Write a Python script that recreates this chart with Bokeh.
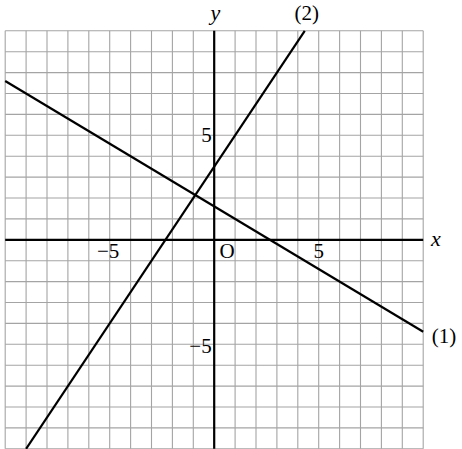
from bokeh.plotting import figure
from bokeh.models import Range1d
from bokeh.core.properties import value
from bokeh.embed import file_html
from bokeh.resources import INLINE

# ---- data ----
grid_values = list(range(-10, 11))           # grid lines every unit, -10..10
axis_extent = [-10, 10]
tick_values = [-5, 5]
tick_labels = ["\u22125", "5"]
line1_x = [-10, 10]
line1_y = [7.6, -4.4]                        # (1)
line2_x = [-9, 4.333]
line2_y = [-10, 10]                          # (2)
line_names = ["(1)", "(2)"]
axis_names = ["x", "y"]
origin_label = "O"

# ---- figure geometry (frame = whole canvas) ----
W, H = 462, 449
ppu = 20.9
ox, oy = 213.7, 239.3                        # origin in canvas px
p = figure(width=W, height=H, output_backend="svg", toolbar_location=None,
           x_range=Range1d(-ox / ppu, (W - ox) / ppu),
           y_range=Range1d(-(H - oy) / ppu, oy / ppu),
           min_border=0, min_border_left=0, min_border_right=0,
           min_border_top=0, min_border_bottom=0)
p.axis.visible = False
p.grid.visible = False
p.outline_line_color = None
p.background_fill_color = "white"
p.border_fill_color = "white"

FONT = value("Liberation Serif")
GRID = "#a4a4a4"
lo, hi = axis_extent

# grid
p.segment(x0=grid_values, y0=[lo] * len(grid_values), x1=grid_values, y1=[hi] * len(grid_values),
          line_color=GRID, line_width=1.1)
p.segment(x0=[lo] * len(grid_values), y0=grid_values, x1=[hi] * len(grid_values), y1=grid_values,
          line_color=GRID, line_width=1.1)

# axes
p.segment(x0=[lo, 0], y0=[0, lo], x1=[hi, 0], y1=[0, hi], line_color="black", line_width=2.2)

# lines
p.line(line1_x, line1_y, line_color="black", line_width=2.2)
p.line(line2_x, line2_y, line_color="black", line_width=2.2)

# x tick labels
p.text(x=tick_values, y=[0, 0], text=tick_labels, x_offset=[-1.5, 0], y_offset=11.5,
       text_align="center", text_baseline="middle",
       text_font=FONT, text_font_size="21px", text_color="black")
# y tick labels
p.text(x=[0, 0], y=tick_values, text=tick_labels, x_offset=-2.5, y_offset=[1.5, -0.5],
       text_align="right", text_baseline="middle",
       text_font=FONT, text_font_size="21px", text_color="black")
# origin
p.text(x=[0], y=[0], text=[origin_label], x_offset=12.8, y_offset=11.5,
       text_align="center", text_baseline="middle",
       text_font=FONT, text_font_size="21px", text_color="black")
# axis names
p.text(x=[hi, 0], y=[0, hi], text=axis_names, x_offset=[12.7, 1.3], y_offset=[-1.3, -18.5],
       text_align="center", text_baseline="middle", text_font_style="italic",
       text_font=FONT, text_font_size="22px", text_color="black")
# line names
p.text(x=[line1_x[-1], line2_x[-1]], y=[line1_y[-1], line2_y[-1]], text=line_names,
       x_offset=[20.7, 2], y_offset=[4.2, -18],
       text_align="center", text_baseline="middle",
       text_font=FONT, text_font_size="21px", text_color="black")

open("out.html", "w").write(file_html(p, INLINE))
